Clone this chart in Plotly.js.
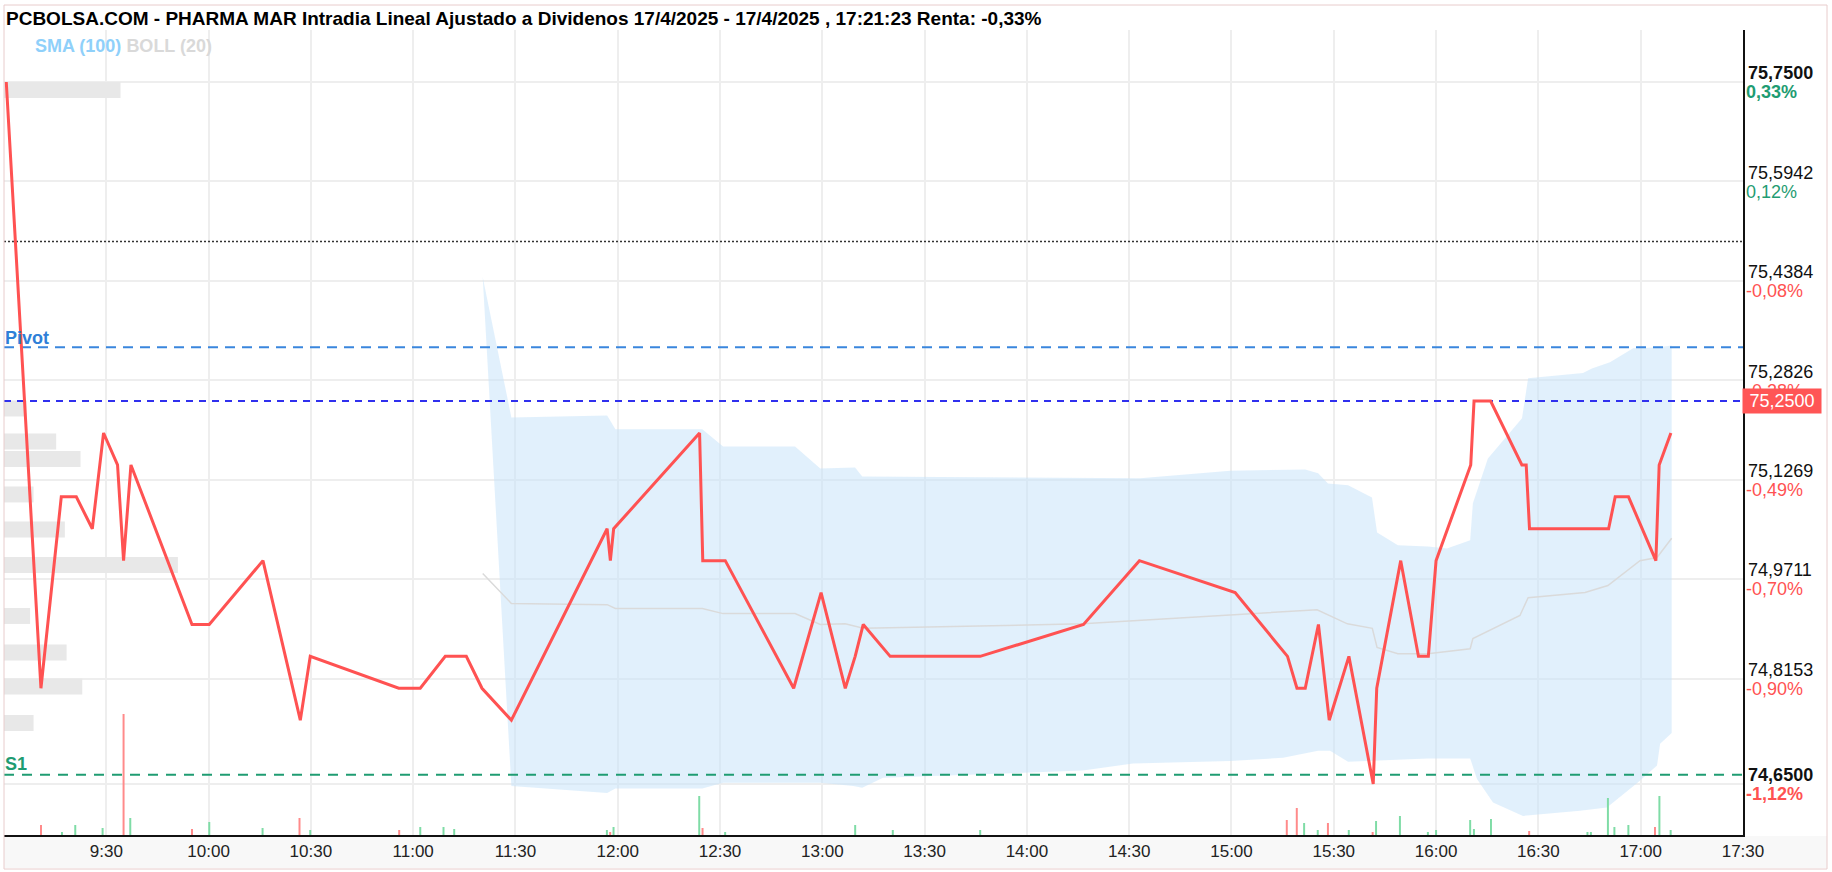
<!DOCTYPE html>
<html>
<head>
<meta charset="utf-8">
<script src="https://cdn.plot.ly/plotly-3.0.1.min.js"></script>
<style>html,body{margin:0;padding:0;background:#fff;}#chart{width:1832px;height:872px;}</style>
</head>
<body>
<div id="chart"></div>
<script>
// ---------- DATA ----------
var priceTimes = ['09:00:40','09:10:50','09:16:48','09:21:12','09:25:54','09:29:12','09:33:18','09:35:04','09:37:14','09:55:08',
  '10:00:12','10:15:57','10:26:54','10:29:49','10:55:46','11:02:05','11:09:25','11:15:35','11:20:11','11:28:48',
  '11:56:53','11:57:50','11:58:48','12:24:00','12:24:56','12:31:32','12:51:36','12:59:38','13:06:44','13:09:38',
  '13:12:00','13:19:54','13:46:18','14:16:36','14:33:00','15:01:04','15:16:26','15:19:12','15:21:38','15:25:30',
  '15:28:40','15:34:26','15:41:34','15:42:36','15:49:38','15:54:50','15:57:44','16:00:00','16:10:10','16:11:08',
  '16:16:00','16:25:10','16:26:26','16:27:24','16:50:36','16:52:32','16:56:26','17:00:20','17:04:28','17:05:26','17:08:52'];
var priceValues = [75.75,74.80,75.10,75.10,75.05,75.20,75.15,75.00,75.15,74.90,
  74.90,75.00,74.75,74.85,74.80,74.80,74.85,74.85,74.80,74.75,
  75.05,75.00,75.05,75.20,75.00,75.00,74.80,74.95,74.80,74.85,
  74.90,74.85,74.85,74.90,75.00,74.95,74.85,74.80,74.80,74.90,
  74.75,74.85,74.65,74.80,75.00,74.85,74.85,75.00,75.15,75.25,
  75.25,75.15,75.15,75.05,75.05,75.10,75.10,75.05,75.00,75.15,75.20];

var bollUpperTimes = ['11:20:24','11:28:48','11:56:54','11:59:18','12:24:48','12:30:54','12:52:00','12:59:24','13:09:36','13:11:42',
  '14:33:12','14:59:36','15:21:36','15:25:24','15:28:18','15:34:12','15:41:12','15:42:42','15:48:48','15:57:36',
  '16:03:12','16:10:00','16:10:48','16:15:12','16:25:12','16:27:00','16:43:06','16:45:42','16:51:00','16:57:48','17:04:48','17:09:06'];
var bollUpper = [75.444,75.2245,75.2276,75.2057,75.2057,75.179,75.179,75.1445,75.146,75.132,
  75.129,75.141,75.143,75.137,75.121,75.118,75.099,75.044,75.024,75.022,
  75.019,75.032,75.090,75.160,75.223,75.286,75.294,75.301,75.311,75.333,75.334,75.337];
var bollLowerTimes = ['11:20:24','11:28:48','11:56:54','11:59:18','12:24:48','12:30:54','12:52:36','12:59:24','13:09:06','13:11:42',
  '13:17:48','14:16:24','14:31:06','14:59:36','15:15:06','15:25:24','15:28:54','15:34:12','15:57:30','16:10:00',
  '16:12:00','16:16:42','16:25:30','16:42:12','16:50:06','16:58:54','17:04:48','17:05:42','17:09:06'];
var bollLower = [75.444,74.647,74.636,74.643,74.643,74.652,74.652,74.652,74.647,74.644,
  74.660,74.671,74.682,74.686,74.691,74.702,74.702,74.685,74.690,74.690,
  74.658,74.621,74.600,74.608,74.613,74.651,74.679,74.713,74.730];
var bollMidTimes = ['11:20:24','11:28:48','11:56:54','11:59:18','12:24:48','12:30:54','12:52:00','12:59:24','13:06:42','13:12:00',
  '14:16:24','15:25:06','15:34:00','15:41:18','15:42:42','15:48:48','15:57:36','16:10:00','16:10:48','16:24:36',
  '16:27:00','16:43:42','16:50:24','16:59:48','17:04:48','17:09:06'];
var bollMid = [74.980,74.933,74.931,74.925,74.925,74.917,74.917,74.900,74.901,74.894,
  74.901,74.923,74.901,74.894,74.864,74.854,74.854,74.862,74.878,74.914,
  74.942,74.950,74.961,75.000,75.005,75.035];

var volTimes = ['09:10:51','09:17:00','09:20:54','09:28:55','09:35:04','09:37:02','09:55:08','10:00:12','10:15:50','10:26:40',
  '10:29:49','10:55:54','11:02:05','11:08:54','11:12:02','11:56:49','11:57:47','11:58:46','12:23:54','12:24:52',
  '12:31:30','13:09:38','13:20:40','13:46:18','15:16:13','15:19:09','15:21:18','15:25:18','15:28:17','15:34:24',
  '15:41:24','15:42:24','15:49:24','15:57:36','16:00:00','16:10:00','16:11:06','16:16:06','16:27:18','16:44:24',
  '16:45:24','16:50:24','16:52:18','16:56:24','17:04:12','17:05:30','17:08:48'];
var volValues = [500,150,500,350,6050,850,300,650,350,850,
  250,250,400,400,300,250,150,400,1950,350,
  150,500,250,250,750,1350,600,250,600,250,
  150,700,950,150,250,750,300,800,200,150,
  150,1850,400,500,400,1950,250];
var volDir = ['d','u','u','u','d','u','d','u','u','d',
  'u','d','u','u','u','u','d','u','u','d',
  'u','u','u','u','d','d','u','u','d','u',
  'd','u','u','u','u','u','u','u','d','u',
  'u','u','u','u','d','u','u'];

var profilePrices = [75.7375,75.2384,75.1867,75.1593,75.1037,75.0488,74.9932,74.9133,74.8561,74.8028,74.7456];
var profileVolumes = [67,13,30,44,17,35,100,15,36,45,17];

var prevClose = 75.50, pivotLevel = 75.3343, lastPrice = 75.25, s1Level = 74.6645;

var yTickVals = [75.75,75.5942,75.4384,75.2826,75.1269,74.9711,74.8153,74.65];
var yTickLabels = ['75,7500','75,5942','75,4384','75,2826','75,1269','74,9711','74,8153','74,6500'];
var yTickPcts = ['0,33%','0,12%','-0,08%','-0,28%','-0,49%','-0,70%','-0,90%','-1,12%'];
var yTickBold = [true,false,false,false,false,false,false,true];
var xTickTimes = ['09:30','10:00','10:30','11:00','11:30','12:00','12:30','13:00','13:30','14:00','14:30','15:00','15:30','16:00','16:30','17:00','17:30'];
var xTickLabels = ['9:30','10:00','10:30','11:00','11:30','12:00','12:30','13:00','13:30','14:00','14:30','15:00','15:30','16:00','16:30','17:00','17:30'];

var titleText = 'PCBOLSA.COM - PHARMA MAR Intradia Lineal Ajustado a Dividenos 17/4/2025 - 17/4/2025 , 17:21:23 Renta: -0,33%';

// ---------- BUILD ----------
var DAY = '2025-04-17 ';
function d(t){ return DAY + t; }
var FONT = 'Liberation Sans, Arial, sans-serif';
var GREEN = '#1f9c72', RED = '#ff5252';
var xStart = d('09:00:00'), xEnd = d('17:30:01');
var yRange = [74.5701, 75.8315];

var bandX = bollUpperTimes.map(d).concat(bollLowerTimes.slice().reverse().map(d));
var bandY = bollUpper.concat(bollLower.slice().reverse());

function hline(v, color, dash, w){
  return {type:'scatter', mode:'lines', x:[xStart, xEnd], y:[v, v], xaxis:'x2', yaxis:'y',
    line:{color:color, dash:dash, width:w}, hoverinfo:'skip'};
}

var traces = [
  {type:'bar', orientation:'h', x:profileVolumes, y:profilePrices, width:0.025, xaxis:'x', yaxis:'y',
   marker:{color:'#e8e8e8', line:{width:0}}, hoverinfo:'skip'},
  {type:'scatter', mode:'lines', x:bandX, y:bandY, xaxis:'x2', yaxis:'y', fill:'toself',
   fillcolor:'rgba(200,228,250,0.55)', line:{width:0, color:'rgba(0,0,0,0)'}, hoverinfo:'skip'},
  {type:'scatter', mode:'lines', x:bollMidTimes.map(d), y:bollMid, xaxis:'x2', yaxis:'y',
   line:{color:'#dadada', width:1.5}, hoverinfo:'skip'},
  hline(prevClose, '#333333', '2px,2px', 1.5),
  hline(pivotLevel, '#3a86dd', '10px,7px', 2),
  hline(lastPrice, '#3030ee', '7px,6px', 2),
  hline(s1Level, '#1f9c72', '10px,8px', 2),
  {type:'bar', x:volTimes.map(d), y:volValues, xaxis:'x2', yaxis:'y2', width:35000,
   marker:{color:volDir.map(function(k){return k==='u' ? '#7fdca6' : '#ff8a8a';}), line:{width:0}}, hoverinfo:'skip'},
  {type:'scatter', mode:'lines', x:priceTimes.map(d), y:priceValues, xaxis:'x2', yaxis:'y3',
   line:{color:'#ff5252', width:3}, hoverinfo:'skip'}
];

var yValText = yTickLabels.map(function(l, i){ return yTickBold[i] ? '<b>' + l + '</b>' : l; });
var yPctText = yTickPcts.map(function(p, i){
  var c = p.charAt(0) === '-' ? RED : GREEN;
  var s = '<span style="color:' + c + '">' + p + '</span>';
  return yTickBold[i] ? '<b>' + s + '</b>' : s;
});

// plot area: x 4..1743, y 30..835
var L = 4, R = 1743, T = 30, B = 835, W = 1832, H = 872;
function px(x){ return (x - L) / (R - L); }
function py(y){ return (B - y) / (B - T); }

var layout = {
  width: W, height: H,
  margin: {l: L, r: W - R, t: T, b: H - B, pad: 0},
  paper_bgcolor: '#ffffff', plot_bgcolor: '#ffffff',
  showlegend: false, hovermode: false,
  font: {family: FONT, color: '#111111'},
  title: {text: '<b>' + titleText + '</b>', x: 6 / W, xanchor: 'left', xref: 'container',
          y: 1 - 18 / H, yanchor: 'middle', yref: 'container',
          font: {family: FONT, size: 19, color: '#000000'}},
  xaxis: {range: [0, 1000], visible: false, fixedrange: true},
  xaxis2: {type: 'date', overlaying: 'x', side: 'bottom', range: [xStart, xEnd],
           tickvals: xTickTimes.map(d), ticktext: xTickLabels, ticks: '',
           showgrid: true, gridcolor: '#eeeeee', gridwidth: 2,
           showline: true, linecolor: '#111111', linewidth: 1.5,
           tickfont: {family: FONT, size: 17, color: '#222222'}, zeroline: false},
  yaxis: {range: yRange, side: 'right', tickmode: 'array', tickvals: yTickVals, ticktext: yValText,
          ticks: '', showgrid: true, gridcolor: '#eeeeee', gridwidth: 2, ticklabelshift: -9,
          showline: true, linecolor: '#111111', linewidth: 1.5, zeroline: false,
          tickfont: {family: FONT, size: 18, color: '#111111'}},
  yaxis2: {overlaying: 'y', range: [0, 40250], visible: false},
  yaxis3: {overlaying: 'y', side: 'right', range: yRange, tickmode: 'array', tickvals: yTickVals, ticktext: yPctText,
           ticks: '', showgrid: false, showline: false, zeroline: false, ticklabelshift: 10, ticklabelstandoff: 2,
           tickfont: {family: FONT, size: 18, color: '#111111'}},
  shapes: [
    {type: 'rect', xref: 'paper', yref: 'paper', x0: px(4), x1: px(1827), y0: py(868), y1: py(836),
     fillcolor: '#f8f8f8', line: {width: 0}, layer: 'below'},
    {type: 'rect', xref: 'paper', yref: 'paper', x0: px(4), x1: px(1827), y0: py(869), y1: py(5),
     fillcolor: 'rgba(0,0,0,0)', line: {color: '#e8cccc', width: 1}, layer: 'above'}
  ],
  annotations: [
    {xref: 'paper', yref: 'paper', x: px(33), y: py(46), xanchor: 'left', yanchor: 'middle', showarrow: false,
     text: '<b><span style="color:#8fd0fa">SMA (100)</span> <span style="color:#d9d9d9">BOLL (20)</span></b>',
     font: {family: FONT, size: 18}},
    {xref: 'paper', yref: 'y', x: px(3), y: pivotLevel, yshift: 9, xanchor: 'left', yanchor: 'middle', showarrow: false,
     text: '<b>Pivot</b>', font: {family: FONT, size: 18, color: '#2f7fd8'}},
    {xref: 'paper', yref: 'y', x: px(3), y: s1Level, yshift: 11, xanchor: 'left', yanchor: 'middle', showarrow: false,
     text: '<b>S1</b>', font: {family: FONT, size: 18, color: '#1f9c72'}},
    {xref: 'paper', yref: 'y', x: px(1742), y: lastPrice, xanchor: 'left', yanchor: 'middle', showarrow: false,
     text: '75,2500', width: 78, height: 24, align: 'center', bgcolor: '#ff5555', borderpad: 0,
     font: {family: FONT, size: 18, color: '#ffffff'}}
  ]
};

Plotly.newPlot('chart', traces, layout, {staticPlot: true, displayModeBar: false});
</script>
</body>
</html>
